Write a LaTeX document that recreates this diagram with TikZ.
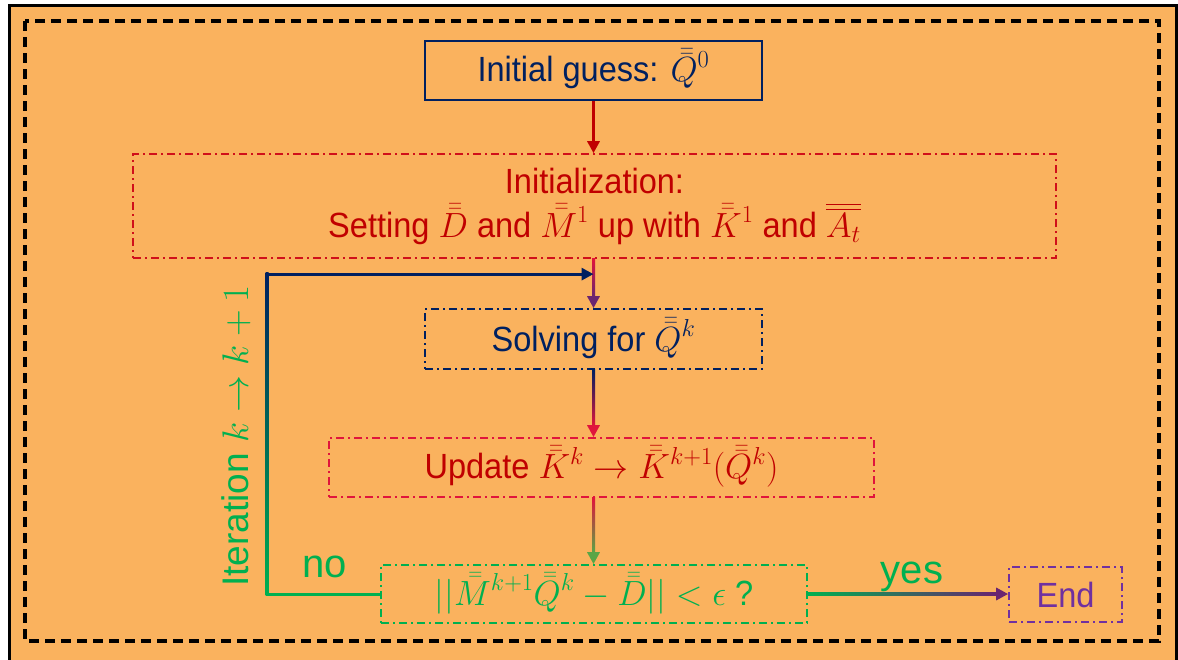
\RequirePackage{fix-cm}
\documentclass[tikz,border=0pt]{standalone}
\usepackage{amsmath}
\usepackage[no-math]{fontspec}
\setmainfont[FakeStretch=0.93]{Liberation Sans}
\newfontfamily\plainsans{Liberation Sans}
\usetikzlibrary{arrows.meta,calc}
\definecolor{bg}{HTML}{FAB25E}
\definecolor{navy}{HTML}{002060}
\definecolor{dred}{HTML}{C00000}
\definecolor{bred}{HTML}{D0101A}
\definecolor{crim}{HTML}{E0143C}
\definecolor{grn}{HTML}{00B050}
\definecolor{purp}{HTML}{7030A0}
\definecolor{dpurp}{HTML}{6A2470}
\definecolor{olive}{HTML}{5AA546}
\newcommand\ddbar[1]{{\smash[t]{\bar{\bar{#1}}}\vphantom{#1}}}
\newcommand\vgrad[4]{\shade[top color=#3, bottom color=#4] ($(#1)+(-1.5,0)$) rectangle ($(#2)+(1.5,-11.5)$);}
\begin{document}
\begin{tikzpicture}[x=1pt,y=-1pt,
  every node/.style={font=\fontsize{35}{44}\selectfont},
  box/.style={draw, line width=1.6pt, inner sep=0pt, align=center},
  dd/.style={dash pattern=on 8pt off 4pt on 2pt off 4pt},
  conn/.style={line width=3pt, -{Triangle[length=12pt,width=12pt]}},
  lbl/.style={text=grn, font=\plainsans\fontsize{40}{44}\selectfont, anchor=base}]
\useasboundingbox (0,0) rectangle (1178,659);
\fill[white] (0,0) rectangle (1178,659);
\draw[line width=3.5pt, fill=bg] (9.5,5.5) rectangle (1176.5,664);
\draw[line width=3.5pt, dash pattern=on 10pt off 6pt] (25,21) rectangle (1159,641);
% nodes
\node[box, draw=navy, text=navy, line width=2pt, minimum width=337pt, minimum height=59pt] (ig) at (593.5,70.5) {Initial guess: $\ddbar{Q}^0$};
\node[box, dd, draw=bred, text=dred, minimum width=923pt, minimum height=104pt] (init) at (594.5,206)
  {Initialization:\\ Setting $\ddbar{D}$ and $\ddbar{M}^1$ up with $\ddbar{K}^1$ and $\overline{\overline{A_t}}$};
\node[box, dd, draw=navy, text=navy, minimum width=337pt, minimum height=60pt] (solve) at (593.5,339) {Solving for $\ddbar{Q}^k$};
\node[box, dd, draw=crim, text=dred, minimum width=545pt, minimum height=59pt] (upd) at (601.5,467.5) {Update $\ddbar{K}^k\rightarrow\ddbar{K}^{k+1}(\ddbar{Q}^k)$};
\node[box, dd, draw=grn, text=grn, minimum width=426pt, minimum height=58pt] (cond) at (594,594) {$||\ddbar{M}^{k+1}\ddbar{Q}^k-\ddbar{D}||<\epsilon$ ?};
\node[box, dd, draw=purp, text=purp, minimum width=113pt, minimum height=55pt] (endn) at (1065.5,594.5) {End};
% connectors
\draw[conn, dred] (ig.south) -- (ig.south |- init.north);
\draw[conn, dpurp] (solve.north |- init.south) -- (solve.north);
\vgrad{solve.north |- init.south}{solve.north}{crim}{dpurp}
\draw[conn, crim] (solve.south) -- (solve.south |- upd.north);
\vgrad{solve.south}{solve.south |- upd.north}{navy}{crim}
\draw[conn, olive] (solve.south |- upd.south) -- (solve.south |- cond.north);
\vgrad{solve.south |- upd.south}{solve.south |- cond.north}{crim}{olive}
\draw[conn, dpurp] (cond.east) -- (cond.east -| endn.west);
\shade[left color=grn, right color=dpurp] ($(cond.east)+(0,-1.5)$) rectangle ($(cond.east -| endn.west)+(-11.5,1.5)$);
% loop
\coordinate (entry) at ($(solve.north |- init.south)!0.31!(solve.north)$);
\coordinate (lc) at (267,594);
\draw[conn, navy] (cond.west) -| (lc |- entry) -- (entry);
\shade[top color=navy, bottom color=grn] ($(lc |- entry)+(-1.5,-1.5)$) rectangle ($(lc)+(1.5,1.5)$);
\draw[grn, line width=3pt] (cond.west) -- ($(lc)+(-1.5,0)$);
% labels
\node[lbl] (no) at (325,577) {no};
\node[lbl] (yes) at (912,583) {yes};
\node[text=grn, rotate=90, font=\plainsans\fontsize{37}{44}\selectfont] (iter) at (236,436) {Iteration $k\rightarrow k+1$};
\end{tikzpicture}
\end{document}
